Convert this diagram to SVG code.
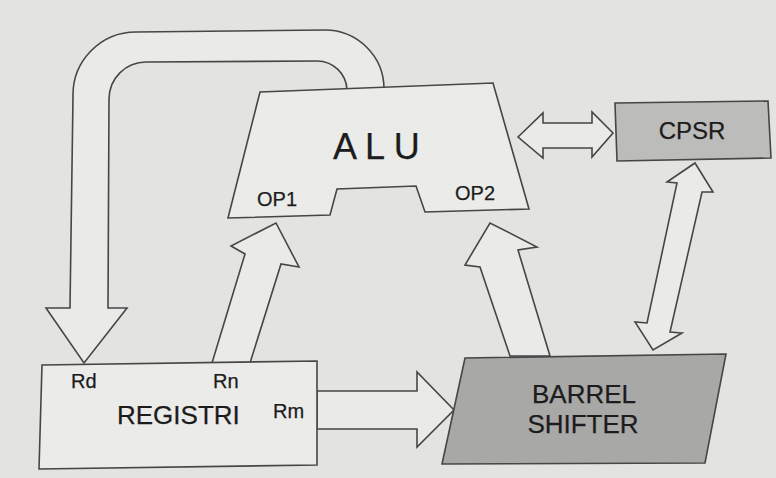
<svg xmlns="http://www.w3.org/2000/svg" width="776" height="478" viewBox="0 0 776 478">
<style>
.bg{fill:#e3e3e1}
.arrow{fill:#eaeae8;stroke:#464646;stroke-width:1.6;stroke-linejoin:miter}
.box{fill:#ebebe9;stroke:#464646;stroke-width:1.6}
.cpsr{fill:#bcbcba;stroke:#464646;stroke-width:1.6}
.shift{fill:#a8a8a6;stroke:#464646;stroke-width:1.6}
text{font-family:"Liberation Sans",Arial,sans-serif;fill:#1c1c1c;stroke:#1c1c1c;stroke-width:0.25}
.lbl{font-size:20px}
</style>
<rect class="bg" x="0" y="0" width="776" height="478"/>
<g id="connectors">
  <path id="loop-rd" class="arrow" d="M70 308 L73 96 A63 63 0 0 1 136 32 L325 30 A59 59 0 0 1 384 89 L384 100 L347 100 L347 90 A30 30 0 0 0 317 61 L146 62 A37 37 0 0 0 109 99 L108 308 L127 308 L84 363 L46 308 Z"/>
  <polygon id="rn-op1" class="arrow" points="212,363 245,254 231,246 276,223 299,267 281,264 250,363"/>
  <polygon id="bs-op2" class="arrow" points="510,356 480,267 465,265 490,223 537,247 518,250 550,356"/>
  <polygon id="alu-cpsr" class="arrow" points="518,137 543,113 543,123 592,123 592,112 613,133 592,157 592,148 543,148 543,158"/>
  <polygon id="cpsr-bs" class="arrow" points="695,163 713,192 702,192 670,332 682,333 653,350 635,322 647,323 677,183 667,182"/>
  <polygon id="rm-bs" class="arrow" points="317,391 417,391 417,372 454,410 417,447 417,429 317,429"/>
</g>
<g id="alu">
  <polygon class="box" points="260,92 493,83 529,209 425,212 416,186 337,189 330,215 228,218"/>
  <text x="333" y="159" style="font-size:36px">A L U</text>
  <text class="lbl" x="257" y="206">OP1</text>
  <text class="lbl" x="455" y="200">OP2</text>
</g>
<g id="cpsr">
  <polygon class="cpsr" points="615,103 768,101 771,158 617,161"/>
  <text x="692" y="139" text-anchor="middle" style="font-size:24px">CPSR</text>
</g>
<g id="registri">
  <polygon class="box" points="42,365 317,361 317,465 39,469"/>
  <text class="lbl" x="71" y="388">Rd</text>
  <text class="lbl" x="213" y="388">Rn</text>
  <text class="lbl" x="273" y="418">Rm</text>
  <text x="117" y="424" style="font-size:26px">REGISTRI</text>
</g>
<g id="barrel-shifter">
  <polygon class="shift" points="465,358 726,354 705,463 442,464"/>
  <text x="584" y="403" text-anchor="middle" style="font-size:26px">BARREL</text>
  <text x="583" y="433" text-anchor="middle" style="font-size:26px">SHIFTER</text>
</g>
</svg>
